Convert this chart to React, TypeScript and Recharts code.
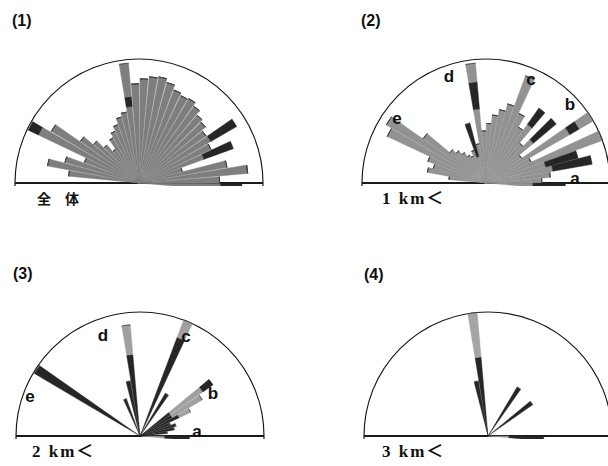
import React from "react";
import {
  RadialBarChart,
  RadialBar,
  PolarAngleAxis,
  PolarRadiusAxis,
  PolarGrid,
} from "recharts";

// Direction bins (degrees, counter-clockwise from the right end of the diameter)
const ANGLE_BINS = [
  0, 5, 10, 15, 20, 25, 30, 35, 40, 45, 50, 55, 60, 65, 70, 75, 80, 85,
  90, 95, 100, 105, 110, 115, 120, 125, 130, 135, 140, 145, 150, 155, 160, 165, 170, 175,
];

// Panel titles and bottom captions
const PANEL_TITLES = ["(1)", "(2)", "(3)", "(4)"];
const PANEL_CAPTIONS = ["全　体", "1 km＜", "2 km＜", "3 km＜"];

// (1) all — relative frequency (outer circle = 100)
const P1_GRAY_INNER = [66, 65, 88, 72, 36, 56, 64, 67, 66, 70, 72, 76, 79, 78, 80, 84, 87, 86, 84, 80, 62, 58, 55, 50, 46, 42, 33, 40, 48, 58, 82, 90, 47, 62, 75, 57];
const P1_DARK_MID = [0, 0, 0, 0, 0, 0, 0, 0, 0, 0, 0, 0, 0, 0, 0, 0, 0, 0, 0, 0, 8, 0, 0, 0, 0, 0, 0, 0, 0, 0, 0, 0, 0, 0, 0, 0];
const P1_GRAY_OUTER = [0, 0, 0, 0, 0, 0, 0, 0, 0, 0, 0, 0, 0, 0, 0, 0, 0, 0, 0, 0, 27, 0, 0, 0, 0, 0, 0, 0, 0, 0, 0, 0, 0, 0, 0, 0];
const P1_DARK_TIP = [17, 0, 0, 0, 0, 25, 0, 24, 0, 0, 0, 0, 0, 0, 0, 0, 0, 0, 0, 0, 0, 0, 0, 0, 0, 0, 0, 0, 0, 0, 0, 9, 0, 0, 0, 0];

// (2) 1 km<
const P2_GRAY_INNER = [38, 45, 52, 55, 50, 100, 40, 78, 35, 50, 42, 58, 52, 62, 92, 66, 60, 55, 48, 42, 60, 32, 22, 28, 24, 26, 30, 34, 38, 62, 93, 88, 50, 44, 48, 30];
const P2_DARK_MID = [0, 0, 0, 0, 0, 0, 0, 9, 0, 0, 0, 0, 0, 0, 0, 0, 0, 0, 0, 0, 22, 0, 28, 0, 0, 0, 0, 0, 0, 0, 0, 0, 0, 0, 0, 0];
const P2_GRAY_OUTER = [0, 0, 0, 0, 0, 0, 0, 13, 0, 0, 0, 0, 0, 0, 0, 0, 0, 0, 0, 0, 15, 0, 0, 0, 0, 0, 0, 0, 0, 0, 0, 0, 0, 0, 0, 0];
const P2_DARK_TIP = [26, 0, 0, 32, 27, 0, 0, 0, 0, 24, 0, 16, 0, 0, 0, 0, 0, 0, 0, 0, 0, 0, 0, 0, 0, 0, 0, 0, 0, 0, 0, 0, 0, 0, 0, 0];

// (3) 2 km<
const P3_GRAY_INNER = [20, 0, 0, 0, 0, 0, 0, 0, 0, 0, 0, 0, 0, 0, 0, 0, 0, 0, 0, 0, 0, 0, 0, 0, 0, 0, 0, 0, 0, 0, 0, 0, 0, 0, 0, 0];
const P3_DARK_MID = [0, 0, 22, 28, 30, 26, 35, 30, 30, 0, 0, 0, 40, 0, 85, 0, 0, 0, 0, 0, 66, 45, 0, 32, 0, 0, 0, 0, 0, 0, 99, 0, 0, 0, 0, 0];
const P3_GRAY_OUTER = [0, 0, 0, 0, 0, 0, 10, 28, 32, 0, 0, 0, 0, 0, 15, 0, 0, 0, 0, 0, 24, 0, 0, 0, 0, 0, 0, 0, 0, 0, 0, 0, 0, 0, 0, 0];
const P3_DARK_TIP = [20, 0, 0, 0, 0, 0, 0, 0, 10, 0, 0, 0, 0, 0, 0, 0, 0, 0, 0, 0, 0, 0, 0, 0, 0, 0, 0, 0, 0, 0, 0, 0, 0, 0, 0, 0];

// (4) 3 km<
const P4_GRAY_INNER = [17, 0, 0, 0, 0, 0, 0, 0, 0, 0, 0, 0, 0, 0, 0, 0, 0, 0, 0, 0, 0, 0, 0, 0, 0, 0, 0, 0, 0, 0, 0, 0, 0, 0, 0, 0];
const P4_DARK_MID = [0, 0, 0, 0, 0, 0, 0, 0, 44, 0, 0, 0, 46, 0, 0, 0, 0, 0, 0, 0, 64, 45, 0, 0, 0, 0, 0, 0, 0, 0, 0, 0, 0, 0, 0, 0];
const P4_GRAY_OUTER = [0, 0, 0, 0, 0, 0, 0, 0, 0, 0, 0, 0, 0, 0, 0, 0, 0, 0, 0, 0, 36, 0, 0, 0, 0, 0, 0, 0, 0, 0, 0, 0, 0, 0, 0, 0];
const P4_DARK_TIP = [28, 0, 0, 0, 0, 0, 0, 0, 0, 0, 0, 0, 0, 0, 0, 0, 0, 0, 0, 0, 0, 0, 0, 0, 0, 0, 0, 0, 0, 0, 0, 0, 0, 0, 0, 0];

const build = (g1: number[], d1: number[], g2: number[], d2: number[]) =>
  ANGLE_BINS.map((bin, i) => ({ bin, g1: g1[i], d1: d1[i], g2: g2[i], d2: d2[i] }));

const DATA = [
  build(P1_GRAY_INNER, P1_DARK_MID, P1_GRAY_OUTER, P1_DARK_TIP),
  build(P2_GRAY_INNER, P2_DARK_MID, P2_GRAY_OUTER, P2_DARK_TIP),
  build(P3_GRAY_INNER, P3_DARK_MID, P3_GRAY_OUTER, P3_DARK_TIP),
  build(P4_GRAY_INNER, P4_DARK_MID, P4_GRAY_OUTER, P4_DARK_TIP),
];

const R = 124;
const CY = 130;
const H = 133;

type RoseProps = {
  data: any[];
  left: number;
  top: number;
  width: number;
  cx: number;
  gray: string;
  dark: string;
  barSize: number;
};

function Rose({ data, left, top, width, cx, gray, dark, barSize }: RoseProps) {
  const common = { stackId: "s", barSize, isAnimationActive: false } as const;
  return (
    <div style={{ position: "absolute", left, top, width, height: H, overflow: "hidden" }}>
      <RadialBarChart
        width={width}
        height={H}
        data={data}
        layout="centric"
        cx={cx}
        cy={CY}
        innerRadius={0}
        outerRadius={R}
        startAngle={0}
        endAngle={180}
        barCategoryGap={0}
        barSize={barSize}
        margin={{ top: 0, right: 0, bottom: 0, left: 0 }}
      >
        <PolarGrid gridType="circle" polarRadius={[R]} polarAngles={[]} radialLines={false} stroke="#1a1a1a" strokeWidth={1.2} />
        <PolarGrid gridType="polygon" polarRadius={[]} polarAngles={[0, 180]} stroke="#1a1a1a" strokeWidth={1.8} />
        <PolarAngleAxis type="category" dataKey="bin" tick={false} axisLine={false} tickLine={false} />
        <PolarRadiusAxis type="number" domain={[0, 100]} tick={false} axisLine={false} tickLine={false} />
        <RadialBar dataKey="g1" fill={gray} stroke={gray} strokeWidth={0.4} {...common} />
        <RadialBar dataKey="d1" fill={dark} stroke={dark} strokeWidth={0.4} {...common} />
        <RadialBar dataKey="g2" fill={gray} stroke={gray} strokeWidth={0.4} {...common} />
        <RadialBar dataKey="d2" fill={dark} stroke={dark} strokeWidth={0.4} {...common} />
      </RadialBarChart>
    </div>
  );
}

const titleStyle: React.CSSProperties = {
  position: "absolute",
  fontFamily: "'Liberation Sans', Arial, sans-serif",
  fontWeight: 700,
  fontSize: 16,
  lineHeight: "16px",
  color: "#111",
};

const captionStyle: React.CSSProperties = {
  position: "absolute",
  fontFamily: "'Liberation Serif', 'Noto Sans CJK JP', serif",
  fontWeight: 700,
  fontSize: 17,
  lineHeight: "17px",
  color: "#111",
  whiteSpace: "pre",
};

const letterStyle: React.CSSProperties = {
  position: "absolute",
  fontFamily: "'Liberation Sans', Arial, sans-serif",
  fontWeight: 700,
  fontSize: 17,
  lineHeight: "17px",
  color: "#111",
  transform: "translate(-50%, -50%)",
};

const LETTERS = [
  { t: "e", x: 397, y: 118 },
  { t: "d", x: 449, y: 76 },
  { t: "c", x: 531, y: 79 },
  { t: "b", x: 570, y: 104 },
  { t: "a", x: 575, y: 178 },
  { t: "e", x: 30, y: 396 },
  { t: "d", x: 103, y: 335 },
  { t: "c", x: 186, y: 336 },
  { t: "b", x: 213, y: 393 },
  { t: "a", x: 197, y: 431 },
];

export default function App() {
  return (
    <div style={{ position: "absolute", left: 0, top: 0, width: 608, height: 466, background: "#fff", overflow: "hidden" }}>
      <Rose data={DATA[0]} left={9} top={53} width={262} cx={130} gray="#7e7e7e" dark="#262626" barSize={5} />
      <Rose data={DATA[1]} left={356} top={53} width={252} cx={130} gray="#929292" dark="#262626" barSize={4.8} />
      <Rose data={DATA[2]} left={10} top={306} width={262} cx={130} gray="#a0a0a0" dark="#262626" barSize={4.4} />
      <Rose data={DATA[3]} left={358} top={306} width={250} cx={130} gray="#a5a5a5" dark="#262626" barSize={4.4} />

      <div style={{ ...titleStyle, left: 12, top: 13 }}>{PANEL_TITLES[0]}</div>
      <div style={{ ...titleStyle, left: 361, top: 13 }}>{PANEL_TITLES[1]}</div>
      <div style={{ ...titleStyle, left: 13, top: 266 }}>{PANEL_TITLES[2]}</div>
      <div style={{ ...titleStyle, left: 364, top: 267 }}>{PANEL_TITLES[3]}</div>

      <div style={{ ...captionStyle, left: 37, top: 191, fontFamily: "'Noto Sans CJK JP', sans-serif", fontSize: 14, lineHeight: "15px" }}>{PANEL_CAPTIONS[0]}</div>
      <div style={{ ...captionStyle, left: 382, top: 190, letterSpacing: 2 }}>{PANEL_CAPTIONS[1]}</div>
      <div style={{ ...captionStyle, left: 32, top: 443, letterSpacing: 2 }}>{PANEL_CAPTIONS[2]}</div>
      <div style={{ ...captionStyle, left: 382, top: 443, letterSpacing: 2 }}>{PANEL_CAPTIONS[3]}</div>

      {LETTERS.map((l, i) => (
        <div key={i} style={{ ...letterStyle, left: l.x, top: l.y }}>{l.t}</div>
      ))}
    </div>
  );
}
